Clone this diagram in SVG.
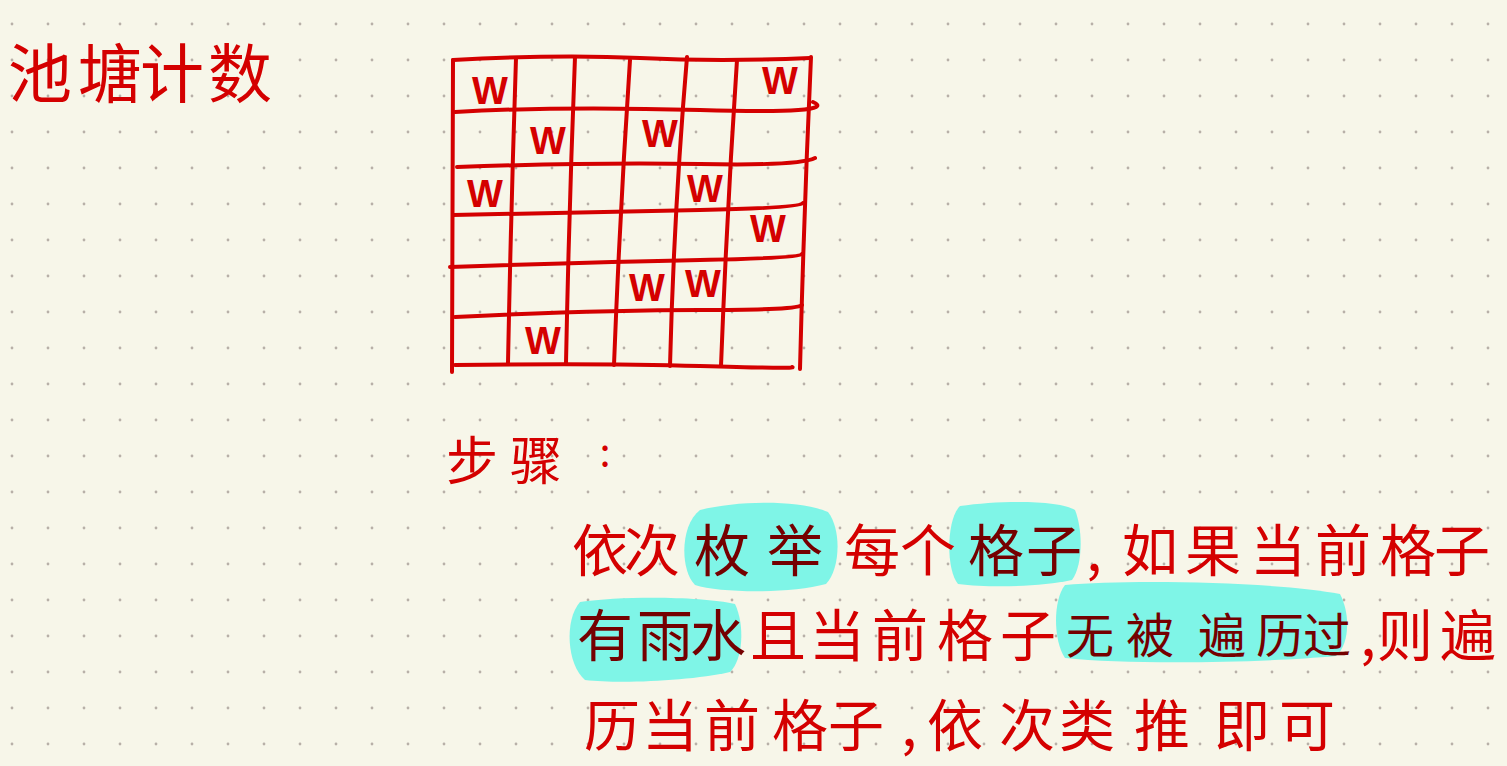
<svg xmlns="http://www.w3.org/2000/svg" width="1507" height="766" viewBox="0 0 1507 766">
<defs>
<pattern id="dots" x="0" y="0" width="36" height="36" patternUnits="userSpaceOnUse">
<circle cx="12" cy="24" r="1.4" fill="#b8b0a8"/>
</pattern>
<style>
.g{fill:none;stroke:#d40000;stroke-width:4;stroke-linecap:round;stroke-linejoin:round}
.hl{fill:#7ff5e7}
.cjk{font-family:"Noto Sans CJK SC","Noto Sans CJK JP",sans-serif;fill:#d40000;text-anchor:middle}
.dk{fill:#750000}
.w{font-family:"Liberation Sans",sans-serif;font-size:38px;font-weight:bold;fill:#d40000;text-anchor:middle}
</style>
</defs>
<rect width="1507" height="766" fill="#f7f6e9"/>
<rect width="1507" height="766" fill="url(#dots)"/>

<g id="title">
<text class="cjk" font-size="64" x="40 110 172 240" y="97">池塘计数</text>
</g>

<g id="grid">
<path class="g" d="M453,60 Q452,220 452,372"/>
<path class="g" d="M516,58 Q511,210 508,363"/>
<path class="g" d="M575,57 Q569,210 566,363"/>
<path class="g" d="M630,60 Q620,210 614,365"/>
<path class="g" d="M687,57 Q674,210 670,366"/>
<path class="g" d="M737,60 Q727,210 721,366"/>
<path class="g" d="M811,57 Q804,210 800,369"/>
<path class="g" d="M453,60 Q560,54 640,58 T810,58"/>
<path class="g" d="M455,112 Q560,106 700,110 T813,102"/>
<path class="g" d="M457,167 Q600,162 700,164 T815,158"/>
<path class="g" d="M453,215 Q600,212 700,210 T803,203"/>
<path class="g" d="M450,267 Q600,262 700,260 T802,254"/>
<path class="g" d="M455,317 Q600,310 700,310 T802,305"/>
<path class="g" d="M455,365 Q600,363 700,366 T792,367"/>
</g>

<g id="cells">
<text class="w" x="490" y="104">W</text>
<text class="w" x="780" y="94">W</text>
<text class="w" x="548" y="154">W</text>
<text class="w" x="660" y="147">W</text>
<text class="w" x="485" y="207">W</text>
<text class="w" x="705" y="202">W</text>
<text class="w" x="768" y="242">W</text>
<text class="w" x="647" y="301">W</text>
<text class="w" x="703" y="297">W</text>
<text class="w" x="543" y="354">W</text>
</g>

<g id="steps-label">
<text class="cjk" font-size="52" x="472 536" y="480">步骤</text>
<text class="cjk" font-size="40" x="605" y="466">:</text>
</g>

<g id="highlights">
<path class="hl" d="M700,510 C740,500 800,500 828,512 C842,530 840,570 826,584 C790,594 720,593 695,585 C680,570 680,525 700,510 Z"/>
<path class="hl" d="M960,506 C1000,500 1060,500 1075,510 C1083,530 1083,565 1072,580 C1040,587 990,588 958,584 C946,570 946,520 960,506 Z"/>
<path class="hl" d="M580,602 C620,596 700,596 735,604 C745,625 743,660 730,672 C690,681 620,684 585,680 C567,665 564,620 580,602 Z"/>
<path class="hl" d="M1065,585 C1130,579 1280,582 1340,594 C1351,615 1349,645 1336,656 C1260,663 1130,665 1065,658 C1053,640 1053,600 1065,585 Z"/>
</g>

<g id="steps-text">
<text class="cjk" font-size="56" y="571"><tspan x="600 652">依次</tspan><tspan class="dk" x="722 795">枚举</tspan><tspan x="872 928">每个</tspan><tspan class="dk" x="996 1054">格子</tspan><tspan x="1094 1150 1213 1278 1343 1408 1462">,如果当前格子</tspan></text>
<text class="cjk" font-size="56" y="656"><tspan class="dk" x="605 665 718">有雨水</tspan><tspan x="778 837 900 965 1028">且当前格子</tspan></text>
<text class="cjk dk" font-size="48" y="653" x="1090 1150 1222 1280 1327">无被遍历过</text>
<text class="cjk" font-size="56" y="656" x="1368 1405 1468">,则遍</text>
<text class="cjk" font-size="56" y="746" x="612 670 732 800 856 909 955 1027 1087 1162 1242 1307">历当前格子,依次类推即可</text>
</g>
</svg>
